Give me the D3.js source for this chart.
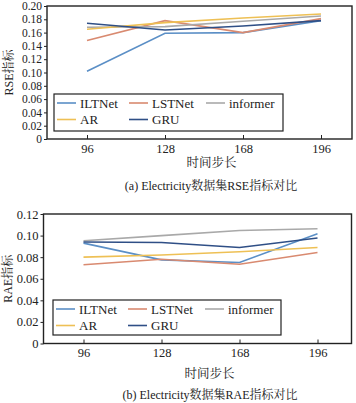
<!DOCTYPE html>
<html><head><meta charset="utf-8">
<script src="https://cdn.jsdelivr.net/npm/d3@7"></script>
<style>
html,body{margin:0;padding:0;background:#fff;}
svg{display:block;}
</style></head>
<body>
<svg id="c" width="356" height="403"></svg>
<script>
const steps = ["96","128","168","196"];
const seriesNames = ["ILTNet","LSTNet","informer","AR","GRU"];
const seriesColors = ["#5b8fc6","#d98a70","#a9a9a9","#eec055","#2f4f86"];
// RSE values (chart a)
const rseILTNet   = [0.102,0.159,0.160,0.178];
const rseLSTNet   = [0.148,0.178,0.160,0.181];
const rseInformer = [0.168,0.169,0.177,0.185];
const rseAR       = [0.165,0.175,0.182,0.188];
const rseGRU      = [0.174,0.164,0.170,0.178];
// RAE values (chart b)
const raeILTNet   = [0.093,0.0775,0.075,0.1017];
const raeLSTNet   = [0.073,0.078,0.0735,0.0843];
const raeInformer = [0.0952,0.100,0.1047,0.1063];
const raeAR       = [0.080,0.082,0.085,0.089];
const raeGRU      = [0.094,0.0936,0.089,0.0977];
const rseTicks = [0,0.02,0.04,0.06,0.08,0.10,0.12,0.14,0.16,0.18,0.20];
const raeTicks = [0,0.02,0.04,0.06,0.08,0.10,0.12];

const SERIF = '"Liberation Serif","Times New Roman",serif';
const CJK = '"Liberation Serif","Noto Serif CJK SC","Noto Sans CJK SC",serif';
const svg = d3.select("#c");
const fmt = v => v===0 ? "0" : v.toFixed(2);

function drawChart(o){
  const g = svg.append("g");
  const x = d3.scalePoint().domain(steps).range([o.left+o.padL, o.right-o.padR]);
  const y = d3.scaleLinear().domain([0,o.max]).range([o.bottom,o.top]);
  // lines
  const line = d3.line().x((d,i)=>x(steps[i])).y(d=>y(d));
  o.data.forEach((arr,k)=>{
    g.append("path").datum(arr).attr("d",line).attr("fill","none")
      .attr("stroke",seriesColors[k]).attr("stroke-width",1.6);
  });
  // frame
  g.append("rect").attr("x",o.left).attr("y",o.top).attr("width",o.right-o.left).attr("height",o.bottom-o.top)
    .attr("fill","none").attr("stroke","#222").attr("stroke-width",1.4);
  // y axis
  const ya = g.append("g").attr("transform",`translate(${o.left},0)`)
    .call(d3.axisLeft(y).tickValues(o.ticks).tickFormat(fmt).tickSize(3).tickPadding(2));
  ya.select(".domain").remove();
  ya.selectAll("line").attr("stroke","#222");
  ya.selectAll("text").style("font-size",o.yfs).style("font-family",SERIF).attr("fill","#222");
  // x axis (inward ticks)
  const xa = g.append("g").attr("transform",`translate(0,${o.bottom})`)
    .call(d3.axisBottom(x).tickSize(-4).tickPadding(5));
  xa.select(".domain").remove();
  xa.selectAll("line").attr("stroke","#222");
  xa.selectAll("text").style("font-size","12.5px").style("font-family",SERIF).attr("fill","#222").attr("dy","0.71em");
  // legend
  const lg = g.append("g");
  lg.append("rect").attr("x",o.lx).attr("y",o.ly).attr("width",o.lw).attr("height",o.lh)
    .attr("fill","#fff").attr("stroke","#222").attr("stroke-width",1.2);
  const cols = [o.lx+3, o.lx+75, o.lx+152];
  seriesNames.forEach((n,k)=>{
    const r = Math.floor(k/3), c = k%3;
    const cy = o.ly + 9 + r*16.5;
    lg.append("line").attr("x1",cols[c]).attr("x2",cols[c]+19).attr("y1",cy).attr("y2",cy)
      .attr("stroke",seriesColors[k]).attr("stroke-width",1.6);
    lg.append("text").attr("x",cols[c]+23).attr("y",cy).attr("dy","0.35em")
      .style("font-size","13px").style("font-family",SERIF).attr("fill","#222").text(n);
  });
  // y label
  g.append("text").attr("transform",`translate(${o.ylx},${(o.top+o.bottom)/2}) rotate(-90)`)
    .attr("text-anchor","middle").attr("dy","0.35em").style("font-size","12px").style("font-family",CJK)
    .attr("fill","#222").text(o.ylab);
  // x label
  g.append("text").attr("x",(o.left+o.right)/2+12).attr("y",o.xly)
    .attr("text-anchor","middle").attr("dy","0.35em").style("font-size","12.5px").style("font-family",CJK)
    .attr("fill","#222").text("时间步长");
  // caption
  g.append("text").attr("x",o.capx).attr("y",o.capy)
    .attr("text-anchor","middle").attr("dy","0.35em").style("font-size","12px").style("font-family",CJK)
    .attr("fill","#222").text(o.cap);
}

drawChart({left:47,right:352,top:6,bottom:139,padL:40,padR:31,max:0.20,ticks:rseTicks,yfs:"11.5px",
  data:[rseILTNet,rseLSTNet,rseInformer,rseAR,rseGRU],
  lx:54,ly:94,lw:229,lh:37,ylx:9,ylab:"RSE指标",xly:163,capx:211,capy:186,
  cap:"(a)  Electricity数据集RSE指标对比"});
drawChart({left:43.5,right:351.5,top:214,bottom:343.5,padL:40,padR:34,max:0.12,ticks:raeTicks,yfs:"12.5px",
  data:[raeILTNet,raeLSTNet,raeInformer,raeAR,raeGRU],
  lx:53,ly:300,lw:228,lh:35,ylx:8,ylab:"RAE指标",xly:374,capx:210,capy:395,
  cap:"(b)  Electricity数据集RAE指标对比"});
</script>
</body></html>
